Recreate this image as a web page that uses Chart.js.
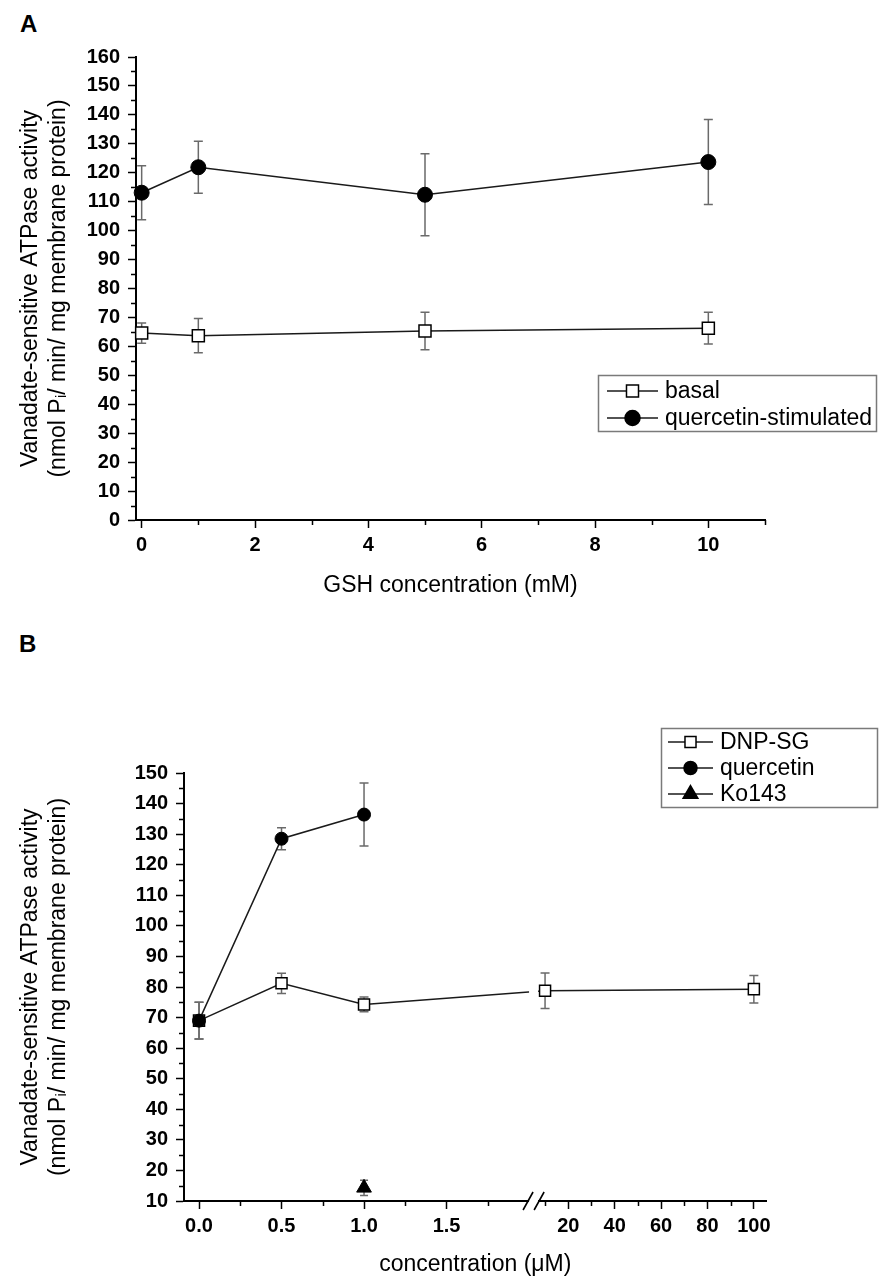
<!DOCTYPE html>
<html>
<head>
<meta charset="utf-8">
<script src="https://cdn.jsdelivr.net/npm/chart.js@4.4.1/dist/chart.umd.min.js"></script>
<style>
  html, body { margin: 0; padding: 0; background: #fff; }
  #wrap { position: relative; width: 892px; height: 1286px; overflow: hidden; }
  canvas { position: absolute; left: 0; }
  .panel { position: absolute; font: bold 24px "Liberation Sans", Arial, sans-serif; line-height: 24px; color: #000; }
</style>
</head>
<body>
<div id="wrap">
  <div class="panel" style="left:20px;top:12px">A</div>
  <canvas id="cA" width="892" height="620" style="top:0;width:892px;height:620px"></canvas>
  <div class="panel" style="left:19px;top:632px">B</div>
  <canvas id="cB" width="892" height="666" style="top:620px;width:892px;height:666px"></canvas>
</div>
<script>
// ---------------- Panel A data ----------------
const gshConc        = [0, 1, 5, 10];
const basalMean      = [64.6, 63.7, 65.3, 66.3];
const basalErr       = [3.5, 5.9, 6.5, 5.5];
const quercStimMean  = [113.1, 121.9, 112.4, 123.7];
const quercStimErr   = [9.3, 9.0, 14.2, 14.7];
const xTicksA        = [0, 2, 4, 6, 8, 10];
const xMinorA        = [1, 3, 5, 7, 9, 11];
const yTicksA        = [0,10,20,30,40,50,60,70,80,90,100,110,120,130,140,150,160];
const yMinorA        = [5,15,25,35,45,55,65,75,85,95,105,115,125,135,145,155];

// ---------------- Panel B data ----------------
const dnpConc        = [0, 0.5, 1, 10, 100];
const dnpMean        = [69.0, 81.2, 74.3, 78.8, 79.3];
const dnpErr         = [6.0, 3.3, 2.4, 5.8, 4.5];
const quercConc      = [0, 0.5, 1];
const quercMean      = [69.0, 128.5, 136.4];
const quercErr       = [6.0, 3.6, 10.3];
const koConc         = [1];
const koMean         = [14.3];
const koErr          = [2.5];
const xTicksB        = [0, 0.5, 1.0, 1.5, 20, 40, 60, 80, 100];
const xMinorB        = [0.25, 0.75, 1.25, 1.75, 10, 30, 50, 70, 90];
const yTicksB        = [10,20,30,40,50,60,70,80,90,100,110,120,130,140,150];
const yMinorB        = [15,25,35,45,55,65,75,85,95,105,115,125,135,145];

// broken-axis transform for panel B (low segment linear 0..2, high segment compressed)
const BRK = { lowEnd: 1.994, highStart: 2.061, origin: 10, u0: 2.097, k: 0.01406 };
function brk(v) { return v <= 2 ? v : BRK.u0 + (v - BRK.origin) * BRK.k; }

const FONT = '"Liberation Sans", Arial, Helvetica, sans-serif';

// ---------------- plugins ----------------
const errorBars = {
  id: 'errorBars',
  beforeDatasetsDraw(chart) {
    const { ctx, scales: { x, y } } = chart;
    ctx.save();
    ctx.strokeStyle = '#6a6a6a';
    ctx.lineWidth = 1.5;
    chart.data.datasets.forEach(ds => {
      if (!ds.errors) return;
      const c = ds.capHalf || 4.5;
      ds.data.forEach((p, i) => {
        const e = ds.errors[i];
        const px = x.getPixelForValue(p.x);
        const y1 = y.getPixelForValue(p.y + e);
        const y2 = y.getPixelForValue(p.y - e);
        ctx.beginPath();
        ctx.moveTo(px, y1); ctx.lineTo(px, y2);
        ctx.moveTo(px - c, y1); ctx.lineTo(px + c, y1);
        ctx.moveTo(px - c, y2); ctx.lineTo(px + c, y2);
        ctx.stroke();
      });
    });
    ctx.restore();
  }
};

const minorTicks = {
  id: 'minorTicks',
  afterDraw(chart, args, o) {
    const { ctx, chartArea, scales: { x, y } } = chart;
    const len = o.len || 5;
    ctx.save();
    ctx.strokeStyle = '#000';
    ctx.lineWidth = 1.5;
    ctx.beginPath();
    (o.x || []).forEach(v => {
      const px = Math.round(x.getPixelForValue(v)) + 0.5;
      ctx.moveTo(px, chartArea.bottom); ctx.lineTo(px, chartArea.bottom + len);
    });
    (o.y || []).forEach(v => {
      const py = Math.round(y.getPixelForValue(v)) + 0.5;
      ctx.moveTo(chartArea.left - len, py); ctx.lineTo(chartArea.left, py);
    });
    ctx.stroke();
    ctx.restore();
  }
};

const axisBreak = {
  id: 'axisBreak',
  afterDraw(chart, args, o) {
    if (!o.enabled) return;
    const { ctx, chartArea, scales: { x } } = chart;
    const xa = x.getPixelForValue(BRK.lowEnd);
    const xb = x.getPixelForValue(BRK.highStart);
    ctx.save();
    ctx.fillStyle = '#fff';
    ctx.fillRect(xa + 1, chartArea.top, xb - xa - 2, chartArea.bottom - chartArea.top + 3);
    ctx.strokeStyle = '#000';
    ctx.lineWidth = 1.6;
    ctx.beginPath();
    [xa, xb].forEach(px => {
      ctx.moveTo(px - 5, chartArea.bottom + 9);
      ctx.lineTo(px + 5, chartArea.bottom - 9);
    });
    ctx.stroke();
    ctx.restore();
  }
};

function drawMarker(ctx, style, r, x, y, fill) {
  ctx.save();
  ctx.fillStyle = fill;
  ctx.strokeStyle = '#000';
  ctx.lineWidth = 1.5;
  ctx.beginPath();
  if (style === 'rect') {
    const s = Math.SQRT1_2 * r;
    ctx.rect(x - s, y - s, 2 * s, 2 * s);
  } else if (style === 'triangle') {
    for (let k = 0; k < 3; k++) {
      const a = k * 2 * Math.PI / 3;
      const px = x + Math.sin(a) * r, py = y - Math.cos(a) * r;
      k ? ctx.lineTo(px, py) : ctx.moveTo(px, py);
    }
    ctx.closePath();
  } else {
    ctx.arc(x, y, r, 0, 2 * Math.PI);
  }
  ctx.fill();
  ctx.stroke();
  ctx.restore();
}

const boxLegend = {
  id: 'boxLegend',
  afterDraw(chart, args, o) {
    const { ctx } = chart;
    ctx.save();
    ctx.strokeStyle = '#7a7a7a';
    ctx.lineWidth = 1.5;
    ctx.strokeRect(o.x + 0.5, o.y + 0.5, o.w, o.h);
    ctx.font = o.fontSize + 'px ' + FONT;
    ctx.textBaseline = 'middle';
    ctx.textAlign = 'left';
    o.items.forEach((idx, n) => {
      const ds = chart.data.datasets[idx];
      const cy = o.y + o.firstOffset + n * o.step;
      ctx.strokeStyle = '#1a1a1a';
      ctx.lineWidth = 1.5;
      ctx.beginPath();
      ctx.moveTo(o.x + o.lineStart, cy);
      ctx.lineTo(o.x + o.lineEnd, cy);
      ctx.stroke();
      drawMarker(ctx, ds.pointStyle, ds.pointRadius, o.x + (o.lineStart + o.lineEnd) / 2, cy, ds.pointBackgroundColor);
      ctx.fillStyle = '#000';
      ctx.fillText(ds.label, o.x + o.textStart, cy + 1);
    });
    ctx.restore();
  }
};

function axisCommon() {
  return {
    grid: { drawOnChartArea: false, drawTicks: true, tickLength: 8, tickColor: '#000', tickWidth: 1.5 },
    border: { display: true, color: '#000', width: 2 },
  };
}
const tickFont = { family: FONT, size: 20, weight: 'bold' };
const titleFont = { family: FONT, size: 23, weight: 'normal', lineHeight: 1.2 };

// ---------------- Chart A ----------------
new Chart(document.getElementById('cA'), {
  type: 'line',
  data: {
    datasets: [
      {
        label: 'basal',
        data: gshConc.map((c, i) => ({ x: c, y: basalMean[i] })),
        errors: basalErr, capHalf: 4.5,
        borderColor: '#1a1a1a', borderWidth: 1.5,
        pointStyle: 'rect', pointRadius: 8.5,
        pointBackgroundColor: '#fff', pointBorderColor: '#000', pointBorderWidth: 1.5,
        clip: false, order: 1
      },
      {
        label: 'quercetin-stimulated',
        data: gshConc.map((c, i) => ({ x: c, y: quercStimMean[i] })),
        errors: quercStimErr, capHalf: 4.5,
        borderColor: '#1a1a1a', borderWidth: 1.5,
        pointStyle: 'circle', pointRadius: 7.5,
        pointBackgroundColor: '#000', pointBorderColor: '#000', pointBorderWidth: 1,
        clip: false, order: 0
      }
    ]
  },
  options: {
    responsive: false, animation: false, devicePixelRatio: 1,
    layout: { padding: { top: 57, right: 127, left: 0, bottom: 0 } },
    plugins: {
      legend: { display: false }, tooltip: { enabled: false },
      minorTicks: { x: xMinorA, y: yMinorA, len: 5 },
      axisBreak: { enabled: false },
      boxLegend: { x: 598, y: 375, w: 278, h: 56, items: [0, 1], firstOffset: 16, step: 27,
                   lineStart: 9, lineEnd: 60, textStart: 67, fontSize: 23 }
    },
    scales: {
      x: Object.assign(axisCommon(), {
        type: 'linear', min: -0.1, max: 11,
        afterBuildTicks: s => { s.ticks = xTicksA.map(v => ({ value: v })); },
        afterFit: s => { s.height = 100; },
        ticks: { font: tickFont, color: '#000', padding: 5, maxRotation: 0, autoSkip: false,
                 callback: (v) => String(v) },
        title: { display: true, text: 'GSH concentration (mM)', color: '#000', font: titleFont,
                 padding: { top: 0, bottom: 21 } }
      }),
      y: Object.assign(axisCommon(), {
        type: 'linear', min: 0, max: 160,
        afterBuildTicks: s => { s.ticks = yTicksA.map(v => ({ value: v })); },
        afterFit: s => { s.width = 136; },
        ticks: { font: tickFont, color: '#000', padding: 8, autoSkip: false, callback: (v) => String(v) },
        title: { display: true, color: '#000', font: titleFont,
                 text: ['Vanadate-sensitive ATPase activity', '(nmol P\u1D62/ min/ mg membrane protein)'],
                 padding: { top: 17, bottom: 0 } }
      })
    }
  },
  plugins: [errorBars, minorTicks, axisBreak, boxLegend]
});

// ---------------- Chart B ----------------
new Chart(document.getElementById('cB'), {
  type: 'line',
  data: {
    datasets: [
      {
        label: 'DNP-SG',
        data: dnpConc.map((c, i) => ({ x: brk(c), y: dnpMean[i] })),
        errors: dnpErr, capHalf: 4.5,
        borderColor: '#1a1a1a', borderWidth: 1.5,
        pointStyle: 'rect', pointRadius: 7.8,
        pointBackgroundColor: '#fff', pointBorderColor: '#000', pointBorderWidth: 1.5,
        clip: false, order: 1
      },
      {
        label: 'quercetin',
        data: quercConc.map((c, i) => ({ x: brk(c), y: quercMean[i] })),
        errors: quercErr, capHalf: 4.5,
        borderColor: '#1a1a1a', borderWidth: 1.5,
        pointStyle: 'circle', pointRadius: 6.5,
        pointBackgroundColor: '#000', pointBorderColor: '#000', pointBorderWidth: 1,
        clip: false, order: 0
      },
      {
        label: 'Ko143',
        data: koConc.map((c, i) => ({ x: brk(c), y: koMean[i] })),
        errors: koErr, capHalf: 4,
        borderColor: '#1a1a1a', borderWidth: 1.5,
        pointStyle: 'triangle', pointRadius: 8.5,
        pointBackgroundColor: '#000', pointBorderColor: '#000', pointBorderWidth: 1,
        clip: false, order: 2
      }
    ]
  },
  options: {
    responsive: false, animation: false, devicePixelRatio: 1,
    layout: { padding: { top: 153, right: 125.5, left: 0, bottom: 0 } },
    plugins: {
      legend: { display: false }, tooltip: { enabled: false },
      minorTicks: { x: xMinorB.map(brk), y: yMinorB, len: 5 },
      axisBreak: { enabled: true },
      boxLegend: { x: 661, y: 108, w: 216, h: 79, items: [0, 1, 2], firstOffset: 14, step: 26,
                   lineStart: 7, lineEnd: 52, textStart: 59, fontSize: 23 }
    },
    scales: {
      x: Object.assign(axisCommon(), {
        type: 'linear', min: -0.091, max: 3.439,
        afterBuildTicks: s => { s.ticks = xTicksB.map(v => ({ value: brk(v) })); },
        afterFit: s => { s.height = 85; },
        ticks: { font: tickFont, color: '#000', padding: 5, maxRotation: 0, autoSkip: false,
                 callback: (v, i) => (xTicksB[i] <= 2 ? xTicksB[i].toFixed(1) : String(xTicksB[i])) },
        title: { display: true, text: 'concentration (\u03BCM)', color: '#000', font: titleFont,
                 padding: { top: 0, bottom: 8 } }
      }),
      y: Object.assign(axisCommon(), {
        type: 'linear', min: 10, max: 150,
        afterBuildTicks: s => { s.ticks = yTicksB.map(v => ({ value: v })); },
        afterFit: s => { s.width = 184; },
        ticks: { font: tickFont, color: '#000', padding: 8, autoSkip: false, callback: (v) => String(v) },
        title: { display: true, color: '#000', font: titleFont,
                 text: ['Vanadate-sensitive ATPase activity', '(nmol P\u1D62/ min/ mg membrane protein)'],
                 padding: { top: 17, bottom: 0 } }
      })
    }
  },
  plugins: [errorBars, minorTicks, axisBreak, boxLegend]
});
</script>
</body>
</html>
